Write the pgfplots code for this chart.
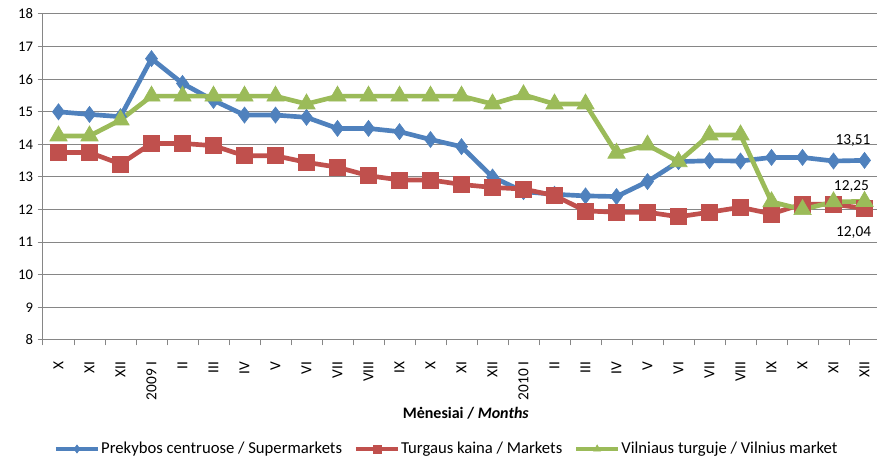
\documentclass[border=0pt]{standalone}
\usepackage{fontspec}
\setmainfont{Carlito}
\usepackage{pgfplots}
\usetikzlibrary{calc}
\pgfplotsset{compat=1.18}
\definecolor{cblue}{HTML}{4F81BD}
\definecolor{cred}{HTML}{C0504D}
\definecolor{cgreen}{HTML}{9BBB59}
\definecolor{cgrid}{HTML}{868686}
\begin{document}
\begin{tikzpicture}
\begin{axis}[
  at={(0,0)}, anchor=south west,
  scale only axis,
  width=625.5pt, height=244.5pt,
  xmin=-0.5, xmax=26.403,
  ymin=8, ymax=18,
  ytick={8,...,18},
  xtick={0,...,26},
  xticklabels={X,XI,XII,2009 I,II,III,IV,V,VI,VII,VIII,IX,X,XI,XII,2010 I,II,III,IV,V,VI,VII,VIII,IX,X,XI,XII},
  minor xtick={-0.5,0.5,...,25.5},
  major x tick style={draw=none},
  minor x tick style={draw=cgrid, line width=0.75pt},
  y tick style={draw=cgrid, line width=0.75pt},
  major tick length=4pt, minor tick length=4pt,
  tick align=outside,
  axis x line*=bottom, axis y line*=left,
  axis line style={draw=cgrid, line width=0.75pt, -},
  ymajorgrids, grid style={draw=cgrid, line width=0.75pt},
  /pgf/number format/assume math mode=true,
  yticklabel style={font=\fontsize{11}{13}\selectfont},
  xticklabel style={font=\fontsize{11.5}{13}\selectfont, rotate=90, anchor=east, inner sep=0pt},
  xticklabel shift=12pt,
  xlabel={\textbf{Mėnesiai / \textit{Months}}},
  xlabel style={at={(0.507,0)}, anchor=center, yshift=-54.75pt, font=\fontsize{12}{14}\selectfont},
  legend columns=3,
  legend style={at={(0.4838,0)}, anchor=center, yshift=-81.75pt, draw=none, fill=none,
    font=\fontsize{12.5}{14}\selectfont, inner sep=0pt,
    nodes={inner xsep=1pt},
    /tikz/every even column/.append style={column sep=8pt}},
  legend cell align=left,
  legend image code/.code={\draw[#1, line width=2.8pt, mark size=3pt, mark repeat=2, mark phase=2] plot coordinates {(0pt,0pt) (15.75pt,0pt) (31.5pt,0pt)};},
]
\addplot[cblue, line width=3.5pt, mark=diamond*, mark size=6pt, mark options={solid, fill=cblue, draw=cblue, line width=0.5pt}] coordinates {
(0,15.00) (1,14.92) (2,14.85) (3,16.63) (4,15.87) (5,15.35) (6,14.90) (7,14.90) (8,14.83)
(9,14.49) (10,14.49) (11,14.39) (12,14.15) (13,13.93) (14,13.00) (15,12.55) (16,12.47)
(17,12.42) (18,12.40) (19,12.86) (20,13.47) (21,13.50) (22,13.49) (23,13.60) (24,13.60)
(25,13.49) (26,13.51)};
\addlegendentry{Prekybos centruose / Supermarkets}
\addplot[cred, line width=3.5pt, mark=square*, mark size=6pt, mark options={solid, fill=cred, draw=cred, line width=0.5pt}] coordinates {
(0,13.75) (1,13.75) (2,13.40) (3,14.03) (4,14.03) (5,13.96) (6,13.65) (7,13.65) (8,13.45)
(9,13.30) (10,13.04) (11,12.91) (12,12.91) (13,12.77) (14,12.68) (15,12.63) (16,12.43)
(17,11.96) (18,11.92) (19,11.92) (20,11.78) (21,11.92) (22,12.07) (23,11.87) (24,12.17)
(25,12.16) (26,12.04)};
\addlegendentry{Turgaus kaina / Markets}
\addplot[cgreen, line width=3.5pt, mark=triangle*, mark size=7.5pt, mark options={solid, fill=cgreen, draw=cgreen, line width=0.5pt}] coordinates {
(0,14.26) (1,14.26) (2,14.75) (3,15.48) (4,15.48) (5,15.48) (6,15.48) (7,15.48) (8,15.24)
(9,15.48) (10,15.48) (11,15.48) (12,15.48) (13,15.48) (14,15.24) (15,15.52) (16,15.24)
(17,15.24) (18,13.73) (19,13.98) (20,13.47) (21,14.29) (22,14.29) (23,12.24) (24,12.00)
(25,12.24) (26,12.25)};
\addlegendentry{Vilniaus turguje / Vilnius market}
\coordinate (ll) at (rel axis cs:0,0);
\node[anchor=east, inner sep=0pt, font=\fontsize{11.5}{13}\selectfont] at (axis cs:26.2,14.13) {13,51};
\node[anchor=east, inner sep=0pt, font=\fontsize{11.5}{13}\selectfont] at (axis cs:26.15,12.72) {12,25};
\node[anchor=east, inner sep=0pt, font=\fontsize{11.5}{13}\selectfont] at (axis cs:26.22,11.31) {12,04};
\end{axis}
\pgfresetboundingbox
\path[use as bounding box] ($(ll)+(-32.25pt,-89.25pt)$) rectangle ++(657.75pt,344.25pt);
\end{tikzpicture}
\end{document}
